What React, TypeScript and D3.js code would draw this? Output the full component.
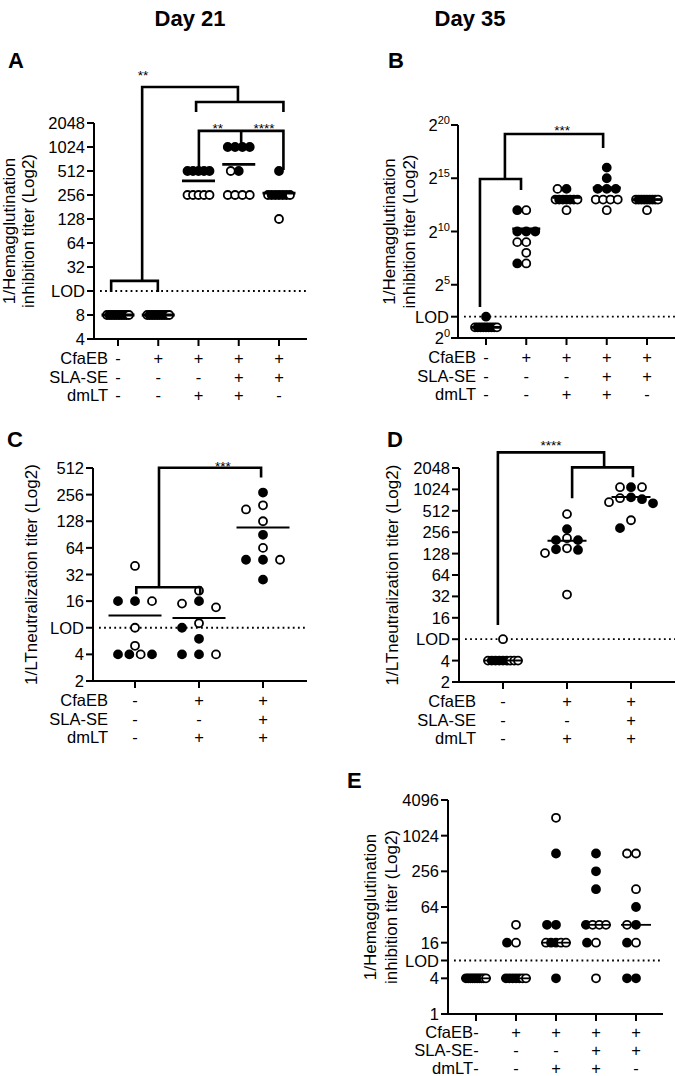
import React from 'react';
import * as d3 from 'd3';

const FONT = '"Liberation Sans", Arial, Helvetica, sans-serif';
const NARROW = '"Liberation Sans Narrow", "Arial Narrow", "Liberation Sans", sans-serif';

const rowNames = ['CfaEB', 'SLA-SE', 'dmLT'];
const cfaEB5 = ['-', '+', '+', '+', '+'];
const slaSE5 = ['-', '-', '-', '+', '+'];
const dmLT5 = ['-', '-', '+', '+', '-'];
const cfaEB3 = ['-', '+', '+'];
const slaSE3 = ['-', '-', '+'];
const dmLT3 = ['-', '+', '+'];

// A: HAI day 21 (titers, 1 = filled dot, 0 = open dot)
const aTiters = [
  [8, 8, 8, 8, 8, 8, 8, 8, 8, 8],
  [8, 8, 8, 8, 8, 8, 8, 8, 8, 8],
  [512, 512, 512, 512, 512, 256, 256, 256, 256, 256],
  [1024, 1024, 1024, 1024, 512, 512, 256, 256, 256, 256],
  [512, 256, 256, 256, 256, 256, 256, 256, 128],
];
const aFilled = [
  [0, 1, 1, 1, 1, 1, 1, 1, 1, 0],
  [0, 1, 1, 1, 1, 1, 1, 1, 1, 0],
  [1, 1, 1, 1, 1, 0, 0, 0, 0, 0],
  [1, 1, 1, 1, 1, 0, 0, 0, 0, 0],
  [1, 0, 1, 1, 1, 1, 1, 0, 0],
];
const aMedians = [8, 8, 384, 620, 270];
const aTicks = [4, 8, 16, 32, 64, 128, 256, 512, 1024, 2048];
const aTickLabels = ['4', '8', 'LOD', '32', '64', '128', '256', '512', '1024', '2048'];

// B: HAI day 35
const bTiters = [
  [4, 2, 2, 2, 2, 2, 2, 2, 2, 2],
  [4096, 4096, 1024, 1024, 1024, 512, 512, 256, 128, 128],
  [16384, 16384, 8192, 8192, 8192, 8192, 8192, 8192, 8192, 4096],
  [65536, 32768, 16384, 16384, 16384, 8192, 8192, 8192, 8192, 4096],
  [8192, 8192, 8192, 8192, 8192, 8192, 8192, 8192, 8192, 4096],
];
const bFilled = [
  [1, 0, 1, 1, 1, 1, 1, 1, 1, 0],
  [0, 1, 1, 1, 1, 0, 0, 0, 0, 1],
  [1, 0, 0, 1, 1, 1, 1, 1, 0, 0],
  [1, 1, 1, 1, 1, 0, 0, 0, 0, 0],
  [0, 1, 1, 1, 1, 1, 1, 1, 0, 0],
];
const bMedians = [2, 1218, 9410, 17560, 8192];
const bTicks = [1, 4, 32, 1024, 32768, 1048576];
const bTickLabels = ['0', 'LOD', '5', '10', '15', '20'];

// C: LT neutralization day 21
const cTiters = [
  [40, 16, 16, 16, 8, 5, 4, 4, 4, 4],
  [21, 16, 15, 13.6, 9, 8, 6, 4, 4, 4],
  [270, 194, 174, 128, 90, 64, 47, 47, 47, 28],
];
const cFilled = [
  [0, 1, 1, 0, 0, 0, 1, 1, 0, 1],
  [0, 1, 0, 0, 0, 1, 1, 1, 1, 0],
  [1, 0, 0, 0, 1, 0, 1, 1, 0, 1],
];
const cMedians = [11, 10.3, 109];
const cTicks = [2, 4, 8, 16, 32, 64, 128, 256, 512];
const cTickLabels = ['2', '4', 'LOD', '16', '32', '64', '128', '256', '512'];

// D: LT neutralization day 35
const dTiters = [
  [8, 4, 4, 4, 4, 4, 4, 4, 4, 4],
  [460, 283, 211, 198, 198, 152, 147, 144, 130, 34],
  [1100, 1100, 1100, 790, 770, 745, 676, 653, 377, 292],
];
const dFilled = [
  [0, 0, 1, 1, 1, 1, 1, 0, 0, 0],
  [0, 1, 0, 1, 1, 0, 1, 1, 0, 0],
  [0, 1, 0, 1, 0, 1, 0, 1, 0, 1],
];
const dMedians = [4, 194, 800];
const dTicks = [2, 4, 8, 16, 32, 64, 128, 256, 512, 1024, 2048];
const dTickLabels = ['2', '4', 'LOD', '16', '32', '64', '128', '256', '512', '1024', '2048'];

// E: HAI
const eTiters = [
  [4, 4, 4, 4, 4, 4, 4, 4, 4, 4],
  [32, 16, 16, 4, 4, 4, 4, 4, 4, 4],
  [2048, 512, 32, 32, 16, 16, 16, 16, 16, 4],
  [512, 256, 128, 32, 32, 32, 32, 16, 16, 4],
  [512, 512, 128, 64, 32, 32, 16, 16, 4, 4],
];
const eFilled = [
  [1, 1, 1, 1, 1, 1, 1, 1, 0, 0],
  [0, 0, 1, 1, 1, 1, 1, 1, 0, 0],
  [0, 1, 1, 1, 0, 1, 1, 0, 0, 1],
  [1, 1, 1, 1, 0, 0, 0, 0, 1, 0],
  [0, 0, 0, 1, 1, 0, 0, 1, 1, 1],
];
const eMedians = [4, 4, 16, 32, 32];
const eTicks = [1, 4, 8, 16, 64, 256, 1024, 4096];
const eTickLabels = ['1', '4', 'LOD', '16', '64', '256', '1024', '4096'];

// significance brackets: polylines of [group index, log2 titer]
const aBrackets = [
  [[-0.17, 3.96], [-0.17, 4.42], [0.99, 4.42], [0.99, 3.96]],
  [[0.6, 4.42], [0.6, 12.5], [2.98, 12.5], [2.98, 11.875]],
  [[1.94, 11.46], [1.94, 11.875], [4.11, 11.875], [4.11, 11.46]],
  [[2.01, 9.04], [2.01, 10.67], [4.11, 10.67], [4.11, 9.04]],
  [[3.06, 10.67], [3.06, 10.17]],
];
const aStars: [number, number, string][] = [[0.62, 12.8, '**'], [2.48, 10.6, '**'], [3.63, 10.6, '****']];
const bBrackets = [
  [[-0.15, 2.9], [-0.15, 14.93], [0.87, 14.93], [0.87, 13.9]],
  [[0.47, 14.93], [0.47, 19.15], [2.91, 19.15], [2.91, 17.84]],
];
const bStars: [number, number, string][] = [[1.89, 19.1, '***']];
const cBrackets = [
  [[0.02, 4.26], [0.02, 4.52], [1.02, 4.52], [1.02, 4.26]],
  [[0.375, 4.52], [0.375, 9.01], [1.97, 9.01], [1.97, 8.64]],
];
const cStars: [number, number, string][] = [[1.375, 8.88, '***']];
const dBrackets = [
  [[-0.08, 3.66], [-0.08, 11.73], [1.58, 11.73], [1.58, 11.03]],
  [[1.08, 9.59], [1.08, 11.03], [2.03, 11.03], [2.03, 10.57]],
];
const dStars: [number, number, string][] = [[0.75, 11.85, '****']];

type Cfg = {
  titers: number[][]; filled: number[][]; medians: number[];
  ticks: number[]; tickLabels: string[]; pow?: boolean; lod: number;
  rows: string[][]; brackets: number[][][]; stars: [number, number, string][];
  gx: [number, number]; ax: [number, number]; yb: number; yt: number; dom: [number, number];
  d: number; W: number; medW: number; medSW: number; labelX: number;
  rowY: number; rowGap: number;
  title: string[]; titleX: number[];
};

const R = 4;

function swarm(vals: number[], ys: number[], d: number, W: number) {
  const n = vals.length;
  const off = new Array(n).fill(0);
  const placed: { x: number; y: number }[] = [];
  const done = new Set<number>();
  for (const [, idx] of d3.group(d3.range(n), i => vals[i])) {
    if (idx.length >= 3) {
      const s = Math.min(d, W / (idx.length - 1));
      idx.forEach((i, k) => {
        off[i] = (k - (idx.length - 1) / 2) * s;
        placed.push({ x: off[i], y: ys[i] });
        done.add(i);
      });
    }
  }
  const order = d3.range(n).filter(i => !done.has(i)).sort((a, b) => ys[a] - ys[b]);
  for (const i of order) {
    let best = 0;
    for (let k = 0; k < 9; k++) {
      const c = k === 0 ? 0 : (k % 2 ? -1 : 1) * Math.ceil(k / 2) * d;
      const ok = placed.every(p => Math.abs(p.y - ys[i]) >= 8 || Math.abs(p.x - c) >= d * 0.9);
      if (ok) { best = c; break; }
    }
    off[i] = best;
    placed.push({ x: best, y: ys[i] });
  }
  return off;
}

function Panel({ p }: { p: Cfg }) {
  const y = d3.scaleLog().base(2).domain(p.dom).range([p.yb, p.yt]);
  const x = d3.scalePoint<number>().domain(d3.range(p.titers.length)).range(p.gx);
  const step = x.step();
  const gp = (g: number) => p.gx[0] + g * step;
  const line = d3.line<number[]>().x(d => gp(d[0])).y(d => y(2 ** d[1]));
  const cy = (p.yb + p.yt) / 2;
  return (
    <g>
      <line x1={p.ax[0] + 6} x2={p.ax[1]} y1={y(p.lod)} y2={y(p.lod)} stroke="#000" strokeWidth={1.8} strokeDasharray="1.8 3.3" />
      <line x1={p.ax[0]} x2={p.ax[0]} y1={p.yb + 1} y2={p.yt} stroke="#000" strokeWidth={2} />
      <line x1={p.ax[0]} x2={p.ax[1]} y1={p.yb} y2={p.yb} stroke="#000" strokeWidth={2} />
      {p.ticks.map((t, i) => (
        <g key={'t' + i}>
          <line x1={p.ax[0] - 7} x2={p.ax[0]} y1={y(t)} y2={y(t)} stroke="#000" strokeWidth={2} />
          {p.pow && p.tickLabels[i] !== 'LOD' ? (
            <text x={p.ax[0] - 8} y={y(t) + 6} textAnchor="end" fontSize={16.5}>
              2<tspan fontSize={11} dy={-7}>{p.tickLabels[i]}</tspan>
            </text>
          ) : (
            <text x={p.ax[0] - 9} y={y(t) + 6} textAnchor="end" fontSize={16.5}>{p.tickLabels[i]}</text>
          )}
        </g>
      ))}
      {x.domain().map(g => (
        <line key={'x' + g} x1={x(g)} x2={x(g)} y1={p.yb} y2={p.yb + 7} stroke="#000" strokeWidth={2} />
      ))}
      {p.rows.map((row, r) => (
        <g key={'r' + r}>
          <text x={p.labelX} y={p.yb + p.rowY + r * p.rowGap} textAnchor="end" fontSize={16.5}>{rowNames[r]}</text>
          {row.map((s, g) => (
            <text key={g} x={x(g)} y={p.yb + p.rowY + r * p.rowGap} textAnchor="middle" fontSize={16.5}>{s}</text>
          ))}
        </g>
      ))}
      {p.title.map((t, i) => (
        <text key={'ti' + i} transform={`translate(${p.titleX[i]},${cy}) rotate(-90)`} textAnchor="middle" fontSize={17}>{t}</text>
      ))}
      {p.titers.map((vals, g) => {
        const ys = vals.map(v => y(v));
        const off = swarm(vals, ys, p.d, p.W);
        return (
          <g key={'g' + g}>
            {vals.map((v, i) => (
              <circle key={i} cx={(x(g) as number) + off[i]} cy={ys[i]} r={R}
                fill={p.filled[g][i] ? '#000' : '#fff'} stroke="#000" strokeWidth={1.8} />
            ))}
            <line x1={(x(g) as number) - p.medW / 2} x2={(x(g) as number) + p.medW / 2}
              y1={y(p.medians[g])} y2={y(p.medians[g])} stroke="#000" strokeWidth={p.medSW} />
          </g>
        );
      })}
      {p.brackets.map((b, i) => (
        <path key={'b' + i} d={line(b) || ''} fill="none" stroke="#000" strokeWidth={2.6} />
      ))}
      {p.stars.map((s, i) => (
        <text key={'s' + i} x={gp(s[0])} y={y(2 ** s[1])} textAnchor="middle" fontSize={13.5}>{s[2]}</text>
      ))}
    </g>
  );
}

const hai = ['1/Hemagglutination', 'inhibition titer (Log2)'];
const ltn = ['1/LTneutralization titer (Log2)'];

const panels: Cfg[] = [
  {
    titers: aTiters, filled: aFilled, medians: aMedians, ticks: aTicks, tickLabels: aTickLabels, lod: 16,
    rows: [cfaEB5, slaSE5, dmLT5], brackets: aBrackets, stars: aStars,
    gx: [118, 279], ax: [94, 307], yb: 339, yt: 123, dom: [4, 2048],
    d: 8, W: 22, medW: 33, medSW: 2.8, labelX: 108, rowY: 25, rowGap: 18.5, title: hai, titleX: [15, 34],
  },
  {
    titers: bTiters, filled: bFilled, medians: bMedians, ticks: bTicks, tickLabels: bTickLabels, pow: true, lod: 4,
    rows: [cfaEB5, slaSE5, dmLT5], brackets: bBrackets, stars: bStars,
    gx: [486, 647], ax: [458, 675], yb: 338, yt: 125, dom: [1, 1048576],
    d: 9, W: 22, medW: 28, medSW: 2.8, labelX: 476, rowY: 25, rowGap: 18.5, title: hai, titleX: [395, 415],
  },
  {
    titers: cTiters, filled: cFilled, medians: cMedians, ticks: cTicks, tickLabels: cTickLabels, lod: 8,
    rows: [cfaEB3, slaSE3, dmLT3], brackets: cBrackets, stars: cStars,
    gx: [135, 263], ax: [93, 307], yb: 681, yt: 468, dom: [2, 512],
    d: 17, W: 34, medW: 53, medSW: 2, labelX: 108, rowY: 25, rowGap: 18.5, title: ltn, titleX: [37],
  },
  {
    titers: dTiters, filled: dFilled, medians: dMedians, ticks: dTicks, tickLabels: dTickLabels, lod: 8,
    rows: [cfaEB3, slaSE3, dmLT3], brackets: dBrackets, stars: dStars,
    gx: [503, 631], ax: [459, 675], yb: 682, yt: 468, dom: [2, 2048],
    d: 11, W: 30, medW: 39, medSW: 2, labelX: 476, rowY: 25, rowGap: 18.5, title: ltn, titleX: [398],
  },
  {
    titers: eTiters, filled: eFilled, medians: eMedians, ticks: eTicks, tickLabels: eTickLabels, lod: 8,
    rows: [cfaEB5, slaSE5, dmLT5], brackets: [], stars: [],
    gx: [476, 636], ax: [448, 663], yb: 1014, yt: 800, dom: [1, 4096],
    d: 9, W: 20, medW: 30, medSW: 1.8, labelX: 473, rowY: 24, rowGap: 18, title: hai, titleX: [376, 397],
  },
];

const letters: [string, number, number][] = [['A', 8, 68], ['B', 388, 68], ['C', 7, 447], ['D', 387, 447], ['E', 347, 788]];

export default function App() {
  return (
    <svg width={675} height={1076} style={{ position: 'absolute', left: 0, top: 0, background: '#fff' }}
      fontFamily={FONT}>
      <rect width={675} height={1076} fill="#fff" />
      <text x={190} y={26} textAnchor="middle" fontFamily={NARROW} fontWeight="bold" fontSize={22}>Day 21</text>
      <text x={470} y={26} textAnchor="middle" fontFamily={NARROW} fontWeight="bold" fontSize={22}>Day 35</text>
      {letters.map(([t, lx, ly]) => (
        <text key={t} x={lx} y={ly} fontFamily={NARROW} fontWeight="bold" fontSize={22}>{t}</text>
      ))}
      {panels.map((p, i) => <Panel key={i} p={p} />)}
    </svg>
  );
}
